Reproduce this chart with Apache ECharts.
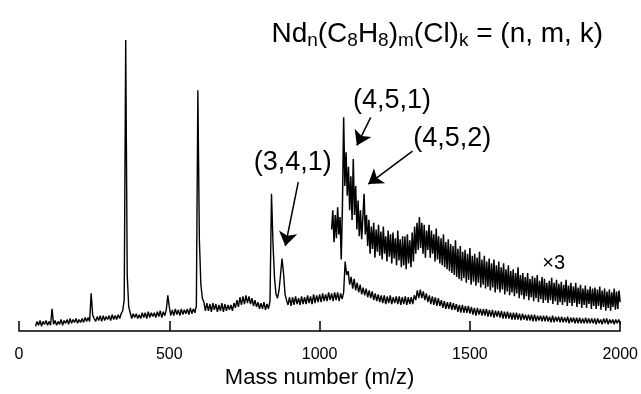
<!DOCTYPE html>
<html>
<head>
<meta charset="utf-8">
<script src="https://cdn.jsdelivr.net/npm/echarts@6/dist/echarts.min.js"></script>
<style>
html,body{margin:0;padding:0;background:#fff;}
#chart{width:641px;height:394px;}
</style>
</head>
<body>
<div id="chart"></div>
<script>
// x-axis ticks
var xTicks = [0, 500, 1000, 1500, 2000];

// main spectrum: m/z grid start/step and intensities (arb. units)
var mainStart = 55, mainStep = 5;
var mainIntensity = [
  5,10,6,11,5,10,7,11,6,10,
  6,23,7,11,6,10,7,12,6,11,
  8,12,7,13,8,12,9,13,8,12,
  9,13,9,14,10,14,10,39,17,13,
  10,15,11,16,10,16,11,15,12,16,
  11,17,12,16,12,17,13,18,21,32,
  301,58,25,19,13,18,14,18,13,17,
  13,19,14,19,13,20,14,19,15,19,
  14,20,15,21,14,20,16,22,37,25,
  16,22,16,23,17,22,16,23,17,22,
  18,23,17,24,18,23,19,26,249,95,
  48,34,30,21,29,21,28,20,29,22,
  28,20,27,21,29,20,28,21,27,22,
  27,21,29,24,32,25,35,27,36,28,
  37,29,36,28,34,26,32,25,30,23,
  29,23,30,22,28,23,31,142,90,55,
  38,34,42,58,75,60,38,32,27,35,
  26,35,27,36,28,34,27,36,28,35,
  28,37,29,36,28,38,29,37,30,38,
  30,39,31,38,31,40,32,39,31,40,
  32,40,31,39,33,40,72,58,62,48,
  56,44,54,42,50,40,48,38,45,37,
  44,35,42,34,41,32,39,31,38,30,
  37,29,37,28,36,29,37,28,35,29,
  36,28,36,27,35,28,36,27,35,28,
  35,28,37,32,42,34,43,34,41,32,
  39,30,37,28,36,27,35,26,34,26,
  32,24,31,23,30,23,30,22,29,22,
  28,20,27,19,27,19,26,19,26,18,
  25,17,24,16,24,17,23,16,23,16,
  23,15,22,15,22,14,21,15,21,14,
  21,13,20,13,20,13,19,12,19,12,
  19,12,18,11,18,12,17,11,17,11,
  17,10,17,10,16,11,16,10,16,10,
  16,10,15,9,16,9,15,10,15,9,
  15,9,14,9,15,8,14,9,14,8,
  14,8,14,8,13,8,14,8,13,8,
  13,8,13,7,13,8,12,7,13,8,
  13,7,12,8,12,7,12,8,12,7
];

// x3 magnified spectrum (m/z 1040-2000)
var zoomStart = 1040, zoomStep = 4;
var zoomIntensity = [
  105,125,92,120,96,128,100,118,74,130,
  221,150,185,140,170,125,160,115,178,120,
  150,105,135,98,125,95,118,142,100,120,
  88,115,80,108,85,112,76,105,82,110,
  78,103,74,108,80,98,72,104,77,100,
  70,102,75,96,68,104,73,95,66,98,
  68,98,64,100,70,94,66,102,72,108,
  80,112,84,118,86,112,80,110,76,104,
  84,110,76,104,80,100,72,106,74,98,
  70,96,68,100,66,92,64,95,62,90,
  60,88,58,94,56,85,54,88,52,82,
  55,84,50,80,53,86,48,78,51,80,
  47,76,50,82,45,74,48,78,44,72,
  46,75,42,70,45,74,40,68,43,72,
  40,66,43,70,38,64,41,68,37,62,
  40,64,36,60,39,66,34,58,37,60,
  33,56,36,60,32,54,35,57,31,55,
  34,58,30,52,33,56,29,54,32,50,
  29,52,32,55,28,50,31,53,27,49,
  30,51,27,48,30,53,26,47,29,50,
  26,46,29,50,25,45,28,48,24,44,
  27,47,24,43,28,46,23,44,26,45,
  23,43,26,46,22,42,25,44,21,41,
  24,43,21,40,25,44,22,41,23,42,
  30
];

// peak annotations: label, label position [m/z, intensity], arrow from, arrow to
var annLabels = ['(3,4,1)', '(4,5,1)', '(4,5,2)'];
var annLabelPos = [[911, 174], [1241, 238], [1441, 199]];
var annArrowFrom = [[929, 154], [1170, 221], [1309, 186]];
var annArrowTo = [[886, 88], [1124, 192], [1162, 152]];
var scaleLabel = '\u00d73';
var scaleLabelPos = [1779, 70];

function toPairs(start, step, vals) {
  return vals.map(function (v, i) { return [start + i * step, v]; });
}

var FONT = '"Liberation Sans", Arial, sans-serif';

var chart = echarts.init(document.getElementById('chart'), null, {renderer: 'canvas'});

var markPts = annLabels.map(function (t, i) {
  return {coord: annLabelPos[i], value: t};
});
markPts.push({coord: scaleLabelPos, value: scaleLabel, label: {fontSize: 20}});

var markLns = annArrowFrom.map(function (f, i) {
  return [{coord: f}, {coord: annArrowTo[i]}];
});

chart.setOption({
  animation: false,
  backgroundColor: '#fff',
  title: {
    right: 33,
    top: 13,
    text: '{m|Nd}{s|n}{m|(C}{s|8}{m|H}{s|8}{m|)}{s|m}{m|(Cl)}{s|k}{m| = (n, m, k)}',
    textStyle: {
      fontWeight: 'normal',
      rich: {
        m: {fontFamily: FONT, fontSize: 28, fontWeight: 'normal', color: '#000', lineHeight: 32},
        s: {fontFamily: FONT, fontSize: 19, fontWeight: 'normal', color: '#000', lineHeight: 19, verticalAlign: 'bottom'}
      }
    }
  },
  grid: {left: 19, right: 17, top: 40, bottom: 53},
  xAxis: {
    type: 'value',
    min: xTicks[0],
    max: xTicks[xTicks.length - 1],
    interval: 500,
    axisLine: {lineStyle: {color: '#000', width: 1.5}},
    axisTick: {inside: true, length: 10, lineStyle: {color: '#000', width: 1.5}},
    axisLabel: {color: '#000', fontFamily: FONT, fontSize: 16, margin: 15,
                formatter: function (v) { return String(v); }},
    splitLine: {show: false},
    name: 'Mass number (m/z)',
    nameLocation: 'middle',
    nameGap: 34,
    nameTextStyle: {color: '#000', fontFamily: FONT, fontSize: 22}
  },
  yAxis: {type: 'value', min: 0, max: 301, show: false},
  series: [
    {
      type: 'line',
      data: toPairs(mainStart, mainStep, mainIntensity),
      symbol: 'none',
      lineStyle: {color: '#000', width: 1.4},
      markPoint: {
        symbol: 'circle',
        symbolSize: 0,
        silent: true,
        label: {show: true, position: 'inside', color: '#000', fontFamily: FONT, fontSize: 27,
                formatter: function (p) { return p.value; }},
        data: markPts
      },
      markLine: {
        silent: true,
        symbol: ['none', 'arrow'],
        symbolSize: 14,
        label: {show: false},
        lineStyle: {color: '#000', width: 1.5, type: 'solid'},
        data: markLns
      }
    },
    {
      type: 'line',
      data: toPairs(zoomStart, zoomStep, zoomIntensity),
      symbol: 'none',
      lineStyle: {color: '#000', width: 1.5}
    }
  ]
});
</script>
</body>
</html>
